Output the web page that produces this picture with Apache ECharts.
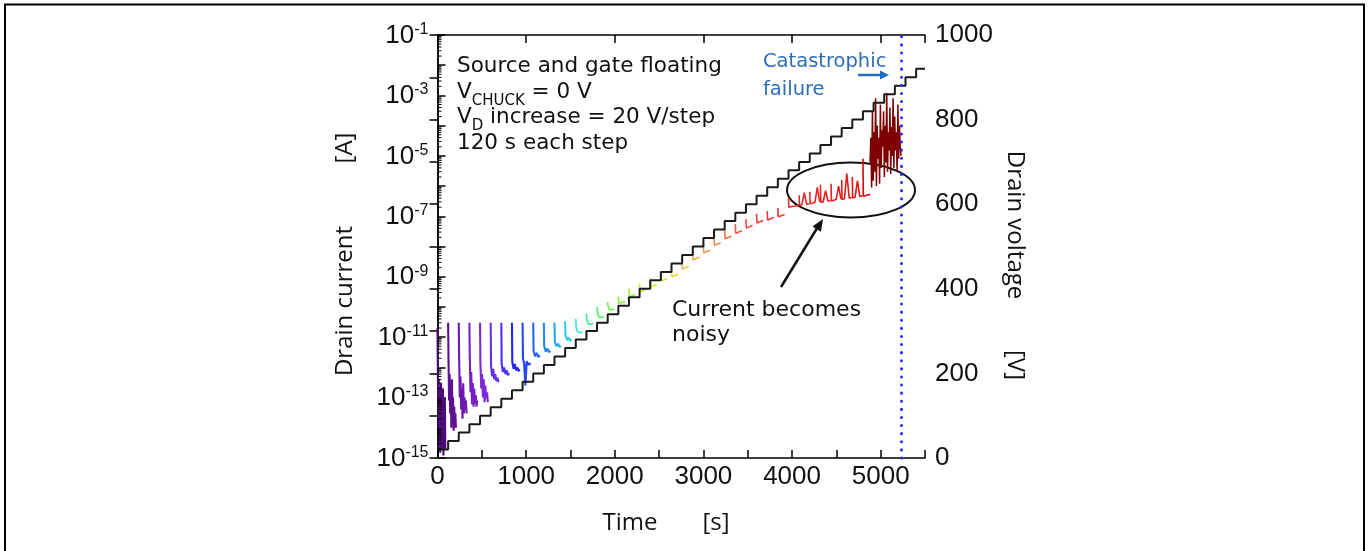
<!DOCTYPE html>
<html>
<head>
<meta charset="utf-8">
<script src="https://cdn.jsdelivr.net/npm/echarts@6/dist/echarts.min.js"></script>
<style>
  html, body { margin: 0; padding: 0; background: #fff; }
  #main { width: 1368px; height: 551px; }
</style>
</head>
<body>
<div id="main"></div>
<script>
// voltage step start times [s], 120 s each step
var stepTimes = [0, 120, 240, 360, 480, 600, 720, 840, 960, 1080, 1200, 1320, 1440, 1560, 1680,
  1800, 1920, 2040, 2160, 2280, 2400, 2520, 2640, 2760, 2880, 3000, 3120, 3240, 3360, 3480,
  3600, 3720, 3840, 3960, 4080, 4200, 4320, 4440, 4560, 4680, 4800, 4920, 5040, 5160, 5280, 5400];
// drain voltage of each step [V]
var drainVoltage = [20, 40, 60, 80, 100, 120, 140, 160, 180, 200, 220, 240, 260, 280, 300,
  320, 340, 360, 380, 400, 420, 440, 460, 480, 500, 520, 540, 560, 580, 600,
  620, 640, 660, 680, 700, 720, 740, 760, 780, 800, 820, 840, 860, 880, 900, 920];
// drain current read along each step [A] (first value = spike at the voltage step)
var currentTrace = [
  [2e-11, 1e-12, 3e-14, 4e-13, 2e-15, 1e-13, 1.5e-15, 6e-14, 3e-13, 2e-15, 8e-14, 1e-14, 2e-13, 1.2e-15, 5e-14, 3e-15, 1e-13, 2e-15],
  [3e-11, 2e-12, 8e-14, 6e-13, 3e-14, 2e-13, 1e-14, 4e-13, 2e-14, 1e-13, 8e-15, 5e-14, 1.5e-14, 3e-14, 1e-14],
  [3e-11, 2e-12, 1e-13, 5e-13, 4e-14, 2e-13, 2e-14, 3e-13, 3e-14, 1e-13, 4e-14, 8e-14, 3e-14],
  [3e-11, 2.5e-12, 1.5e-13, 7e-13, 6e-14, 3e-13, 5e-14, 2e-13, 6e-14, 1.2e-13, 5e-14, 8e-14],
  [3e-11, 1.5e-12, 2e-13, 6e-13, 1e-13, 4e-13, 7e-14, 2.5e-13, 9e-14, 1.5e-13, 7e-14],
  [3e-11, 1.2e-12, 5e-13, 9e-13, 4e-13, 6e-13, 3.5e-13, 4.5e-13, 3.2e-13],
  [3e-11, 1.3e-12, 7e-13, 1e-12, 6e-13, 8e-13, 5.5e-13, 6.5e-13],
  [3e-11, 1.5e-12, 9e-13, 1.3e-12, 8e-13, 1e-12, 7.5e-13, 8.5e-13],
  [3e-11, 2e-12, 1.3e-12, 2.5e-13, 1.6e-12, 1.2e-12, 1.4e-12, 1.2e-12],
  [3e-11, 3.5e-12, 2.3e-12, 3e-12, 2.2e-12, 2.5e-12],
  [3e-11, 5e-12, 3.3e-12, 4.2e-12, 3.2e-12, 3.5e-12],
  [3e-11, 7e-12, 5e-12, 6e-12, 4.8e-12, 5e-12],
  [3.3e-11, 1.2e-11, 8e-12, 9.5e-12, 7.6e-12, 8e-12],
  [4e-11, 2e-11, 1.5e-11, 1.7e-11, 1.4e-11, 1.5e-11],
  [6e-11, 3.8e-11, 2.8e-11, 3.2e-11, 2.7e-11, 2.9e-11],
  [1e-10, 6.5e-11, 4.6e-11, 5.2e-11, 4.5e-11, 4.8e-11],
  [1.4e-10, 1.1e-10, 8e-11, 9e-11, 8.2e-11, 8.5e-11],
  [2.2e-10, 1.3e-10, 1.4e-10, 1.5e-10],
  [4e-10, 2.2e-10, 2.4e-10, 2.6e-10],
  [6e-10, 3.2e-10, 3.5e-10, 3.8e-10],
  [9e-10, 4.6e-10, 5e-10, 5.5e-10],
  [1.4e-9, 7.4e-10, 8e-10, 8.8e-10],
  [2e-9, 1e-9, 1.1e-9, 1.2e-9],
  [3.5e-9, 1.8e-9, 2e-9, 2.2e-9],
  [7e-9, 3.6e-9, 4e-9, 4.4e-9],
  [1.2e-8, 6.2e-9, 6.8e-9, 7.5e-9],
  [2.1e-8, 1.1e-8, 1.2e-8, 1.3e-8],
  [3.6e-8, 1.8e-8, 2e-8, 2.2e-8],
  [5.5e-8, 2.7e-8, 3e-8, 3.3e-8],
  [8e-8, 4.1e-8, 4.5e-8, 5e-8],
  [1.2e-7, 6e-8, 6.6e-8, 7.3e-8],
  [1.5e-7, 7.6e-8, 8.3e-8, 9.2e-8],
  [1.9e-7, 9.6e-8, 1.05e-7, 1.15e-7],
  [4e-7, 2e-7, 2.1e-7, 2.2e-7, 2.3e-7],
  [5e-7, 2.3e-7, 2.4e-7, 6e-7, 2.5e-7, 2.6e-7],
  [6.5e-7, 2.6e-7, 2.7e-7, 2.9e-7, 9e-7, 3e-7],
  [1.1e-6, 2.9e-7, 3e-7, 7e-7, 3.2e-7, 3.3e-7],
  [1.2e-6, 3.2e-7, 3.4e-7, 3.6e-7, 1e-6, 3.7e-7],
  [1.6e-6, 3.6e-7, 3.8e-7, 2.6e-6, 4e-7, 4.2e-7],
  [2e-6, 4e-7, 4.3e-7, 1.5e-6, 4.5e-7, 4.8e-7],
  [8e-6, 4.6e-7, 5e-7, 5.3e-7]
];
// noisy current from the onset of noise up to catastrophic failure [A]
var failureCurrent = [6e-6, 4e-5, 9e-7, 3e-4, 1.5e-6, 6e-5, 3e-6, 8e-4, 1e-6, 1e-4, 8e-6, 4e-5,
  1.2e-6, 5e-4, 4e-6, 7e-5, 2e-5, 3e-4, 2e-6, 1e-4, 6e-6, 1.2e-3, 3e-6, 6e-5, 1.5e-5, 4e-4,
  2.5e-6, 9e-5, 1e-5, 8e-4, 4e-6, 2e-4, 1.5e-5, 6e-5, 3e-6, 5e-4, 8e-6, 1e-4, 2e-5, 1e-5];
var failureStart = 4880;   // [s]
var failureTime = 5230;    // [s] catastrophic failure
var timeEnd = 5500;
// decades shown on the current axis (exponents)
var decadeMin = -15, decadeMax = -1;

// colours along the test (purple -> blue -> green -> yellow -> red)
var colorStops = [
  [0, '#4e0a78'], [2, '#6e16b0'], [4, '#7d2ad8'], [6, '#4a34f2'], [7, '#2424ff'],
  [9, '#2466f4'], [11, '#22a6f2'], [12, '#2ccaf0'], [13, '#34e4d0'], [14, '#3cf090'],
  [16, '#60f040'], [18, '#a8f028'], [20, '#dcf028'], [22, '#f0d838'], [23, '#f0b848'],
  [26, '#f08848'], [28, '#f05a44'], [30, '#f03a36'], [39, '#e81414'], [40, '#d00808']
];
function hex2rgb(h) { return [parseInt(h.substr(1, 2), 16), parseInt(h.substr(3, 2), 16), parseInt(h.substr(5, 2), 16)]; }
function stepColor(k) {
  for (var i = 0; i < colorStops.length - 1; i++) {
    var a = colorStops[i], b = colorStops[i + 1];
    if (k >= a[0] && k <= b[0]) {
      var f = (k - a[0]) / (b[0] - a[0]), ca = hex2rgb(a[1]), cb = hex2rgb(b[1]);
      return 'rgb(' + ca.map(function (c, j) { return Math.round(c + (cb[j] - c) * f); }).join(',') + ')';
    }
  }
  return colorStops[colorStops.length - 1][1];
}

var series = [];
currentTrace.forEach(function (vals, k) {
  var t0 = stepTimes[k];
  var span = k >= 33 ? 112 : (k < 9 ? 88 : 75);
  if (k === currentTrace.length - 1) span = failureStart - t0;
  var n = vals.length;
  var pts = vals.map(function (v, i) {
    var t = i === 0 ? t0 : t0 + 4 + (span - 4) * (i - 1) / (n - 2);
    return [t, v];
  });
  series.push({
    type: 'line', data: pts, symbol: 'none', xAxisIndex: 0, yAxisIndex: 0,
    lineStyle: { color: stepColor(k), width: k < 13 ? 2.1 : 1.6 }, silent: true, z: 2
  });
});
series.push({
  type: 'line', symbol: 'none', xAxisIndex: 0, yAxisIndex: 0, silent: true, z: 2,
  lineStyle: { color: '#7e0000', width: 1.5 },
  data: failureCurrent.map(function (v, i) {
    return [failureStart + (failureTime - failureStart) * i / (failureCurrent.length - 1), v];
  })
});

// drain voltage staircase
var vData = stepTimes.map(function (t, i) { return [t, drainVoltage[i]]; });
vData.push([timeEnd, drainVoltage[drainVoltage.length - 1]]);
series.push({
  type: 'line', step: 'end', data: vData, symbol: 'none', xAxisIndex: 0, yAxisIndex: 1,
  lineStyle: { color: '#1a1a1a', width: 2 }, silent: true, z: 4,
  markLine: {
    silent: true, symbol: 'none', label: { show: false },
    lineStyle: { color: '#2a2aff', width: 3, type: [0.1, 8], cap: 'round' },
    data: [{ xAxis: failureTime }]
  }
});

// minor ticks of the log axis (2..9 in each decade)
var minorTicks = [];
for (var e = decadeMin; e < decadeMax; e++) for (var m = 2; m <= 9; m++) minorTicks.push([0, m * Math.pow(10, e)]);
series.push({
  type: 'custom', xAxisIndex: 0, yAxisIndex: 0, silent: true, z: 5, data: minorTicks,
  renderItem: function (params, api) {
    var p = api.coord([0, api.value(1)]);
    return { type: 'line', shape: { x1: p[0], y1: p[1], x2: p[0] + 4, y2: p[1] },
      style: { stroke: '#000', lineWidth: 1 } };
  }
});

var axisFont = 'Liberation Sans, Arial, sans-serif';
var lineStyle = { color: '#000', width: 1.5 };
var tick = { inside: true, length: 8, lineStyle: { color: '#000', width: 1.5 } };

function arrowHead(tip, from, len, half) {
  var dx = tip[0] - from[0], dy = tip[1] - from[1], L = Math.sqrt(dx * dx + dy * dy);
  var ux = dx / L, uy = dy / L, bx = tip[0] - ux * len, by = tip[1] - uy * len;
  return [tip, [bx - uy * half, by + ux * half], [bx + uy * half, by - ux * half]];
}
var noisyFrom = [781, 287], noisyTip = [823, 219];
var failFrom = [858, 75], failTip = [889, 75];
var noteFont = '21.5px "DejaVu Sans", Verdana, sans-serif';
var subFont = '15px "DejaVu Sans", Verdana, sans-serif';
var nameFont = '24px "Open Sans", sans-serif';
var blueFont = '19.5px "DejaVu Sans", Verdana, sans-serif';
var noisyFont = '22px "DejaVu Sans", Verdana, sans-serif';

var option = {
  animation: false,
  backgroundColor: '#fff',
  grid: { left: 437.5, right: 443, top: 35, bottom: 93 },
  xAxis: [{
    type: 'value', min: 0, max: timeEnd, interval: 500, position: 'bottom',
    axisLine: { lineStyle: lineStyle }, axisTick: tick, splitLine: { show: false },
    axisLabel: { margin: 6, fontSize: 26, fontFamily: axisFont, color: '#111',
      formatter: function (v) { return v % 1000 === 0 ? String(v) : ''; } }
  }, {
    type: 'value', min: 0, max: timeEnd, interval: 1000, position: 'top',
    axisLine: { lineStyle: lineStyle }, axisTick: tick, splitLine: { show: false },
    axisLabel: { show: false }
  }],
  yAxis: [{
    // log scale that carries the current data
    type: 'log', logBase: 10, min: Math.pow(10, decadeMin), max: Math.pow(10, decadeMax),
    position: 'left', show: false
  }, {
    type: 'value', min: 0, max: 1000, interval: 100, position: 'right',
    axisLine: { show: true, lineStyle: lineStyle }, axisTick: tick, splitLine: { show: false },
    axisLabel: { margin: 10, fontSize: 26, fontFamily: axisFont, color: '#111',
      formatter: function (v) { return v % 200 === 0 ? String(v) : ''; } }
  }, {
    // decade ticks and labels of the current axis
    type: 'value', min: decadeMin, max: decadeMax, interval: 1, position: 'left',
    axisLine: { show: true, lineStyle: lineStyle }, axisTick: tick, splitLine: { show: false },
    axisLabel: {
      margin: 9, color: '#111',
      formatter: function (v) {
        if (v % 2 === 0) return '';
        return '{b|10}{s|' + v + '}';
      },
      rich: {
        b: { fontSize: 26, fontFamily: axisFont, color: '#111', verticalAlign: 'bottom' },
        s: { fontSize: 16, fontFamily: axisFont, color: '#111', verticalAlign: 'bottom', padding: [0, 0, 11, 0] }
      }
    }
  }],
  series: series,
  graphic: [
    { type: 'rect', silent: true, shape: { x: 5, y: 4.5, width: 1359, height: 600 },
      style: { fill: 'none', stroke: '#000', lineWidth: 2 } },
    // axis names
    { type: 'text', x: 345, y: 301, rotation: Math.PI / 2, silent: true,
      style: { text: 'Drain current', font: nameFont, fill: '#111', align: 'center', verticalAlign: 'middle' } },
    { type: 'text', x: 345, y: 148, rotation: Math.PI / 2, silent: true,
      style: { text: '[A]', font: nameFont, fill: '#111', align: 'center', verticalAlign: 'middle' } },
    { type: 'text', x: 1015, y: 225, rotation: -Math.PI / 2, silent: true,
      style: { text: 'Drain voltage', font: nameFont, fill: '#111', align: 'center', verticalAlign: 'middle' } },
    { type: 'text', x: 1015, y: 365, rotation: -Math.PI / 2, silent: true,
      style: { text: '[V]', font: nameFont, fill: '#111', align: 'center', verticalAlign: 'middle' } },
    { type: 'text', x: 630, y: 523, silent: true,
      style: { text: 'Time', font: nameFont, fill: '#111', align: 'center', verticalAlign: 'middle' } },
    { type: 'text', x: 716, y: 523, silent: true,
      style: { text: '[s]', font: nameFont, fill: '#111', align: 'center', verticalAlign: 'middle' } },
    // measurement conditions
    { type: 'text', x: 457, y: 66, silent: true,
      style: { text: 'Source and gate floating', font: noteFont, fill: '#111', verticalAlign: 'middle' } },
    { type: 'text', x: 457, y: 95, silent: true,
      style: { text: '{m|V}{s|CHUCK}{m| = 0 V}', verticalAlign: 'middle',
        rich: { m: { font: noteFont, fill: '#111', verticalAlign: 'bottom', padding: [0, 0, 5, 0] },
                s: { font: subFont, fill: '#111', verticalAlign: 'bottom' } } } },
    { type: 'text', x: 457, y: 120, silent: true,
      style: { text: '{m|V}{s|D}{m| increase = 20 V/step}', verticalAlign: 'middle',
        rich: { m: { font: noteFont, fill: '#111', verticalAlign: 'bottom', padding: [0, 0, 5, 0] },
                s: { font: subFont, fill: '#111', verticalAlign: 'bottom' } } } },
    { type: 'text', x: 457, y: 143, silent: true,
      style: { text: '120 s each step', font: noteFont, fill: '#111', verticalAlign: 'middle' } },
    // catastrophic failure note
    { type: 'text', x: 763, y: 62, silent: true,
      style: { text: 'Catastrophic', font: blueFont, fill: '#2e6db4', verticalAlign: 'middle' } },
    { type: 'text', x: 763, y: 90, silent: true,
      style: { text: 'failure', font: blueFont, fill: '#2e6db4', verticalAlign: 'middle' } },
    { type: 'line', silent: true, shape: { x1: failFrom[0], y1: failFrom[1], x2: failTip[0] - 6, y2: failTip[1] },
      style: { stroke: '#1f6cc0', lineWidth: 2.5 } },
    { type: 'polygon', silent: true, shape: { points: arrowHead(failTip, failFrom, 9, 4.5) },
      style: { fill: '#1f6cc0' } },
    // noisy current note
    { type: 'ellipse', silent: true, shape: { cx: 851, cy: 190, rx: 64, ry: 27.5 },
      style: { fill: 'none', stroke: '#111', lineWidth: 2 } },
    { type: 'line', silent: true, shape: { x1: noisyFrom[0], y1: noisyFrom[1], x2: noisyTip[0] - 4, y2: noisyTip[1] + 6 },
      style: { stroke: '#111', lineWidth: 2.5 } },
    { type: 'polygon', silent: true, shape: { points: arrowHead(noisyTip, noisyFrom, 12, 5) },
      style: { fill: '#111' } },
    { type: 'text', x: 672, y: 310, silent: true,
      style: { text: 'Current becomes', font: noisyFont, fill: '#111', verticalAlign: 'middle' } },
    { type: 'text', x: 672, y: 335, silent: true,
      style: { text: 'noisy', font: noisyFont, fill: '#111', verticalAlign: 'middle' } }
  ]
};

var chart = echarts.init(document.getElementById('main'));
chart.setOption(option);
</script>
</body>
</html>
